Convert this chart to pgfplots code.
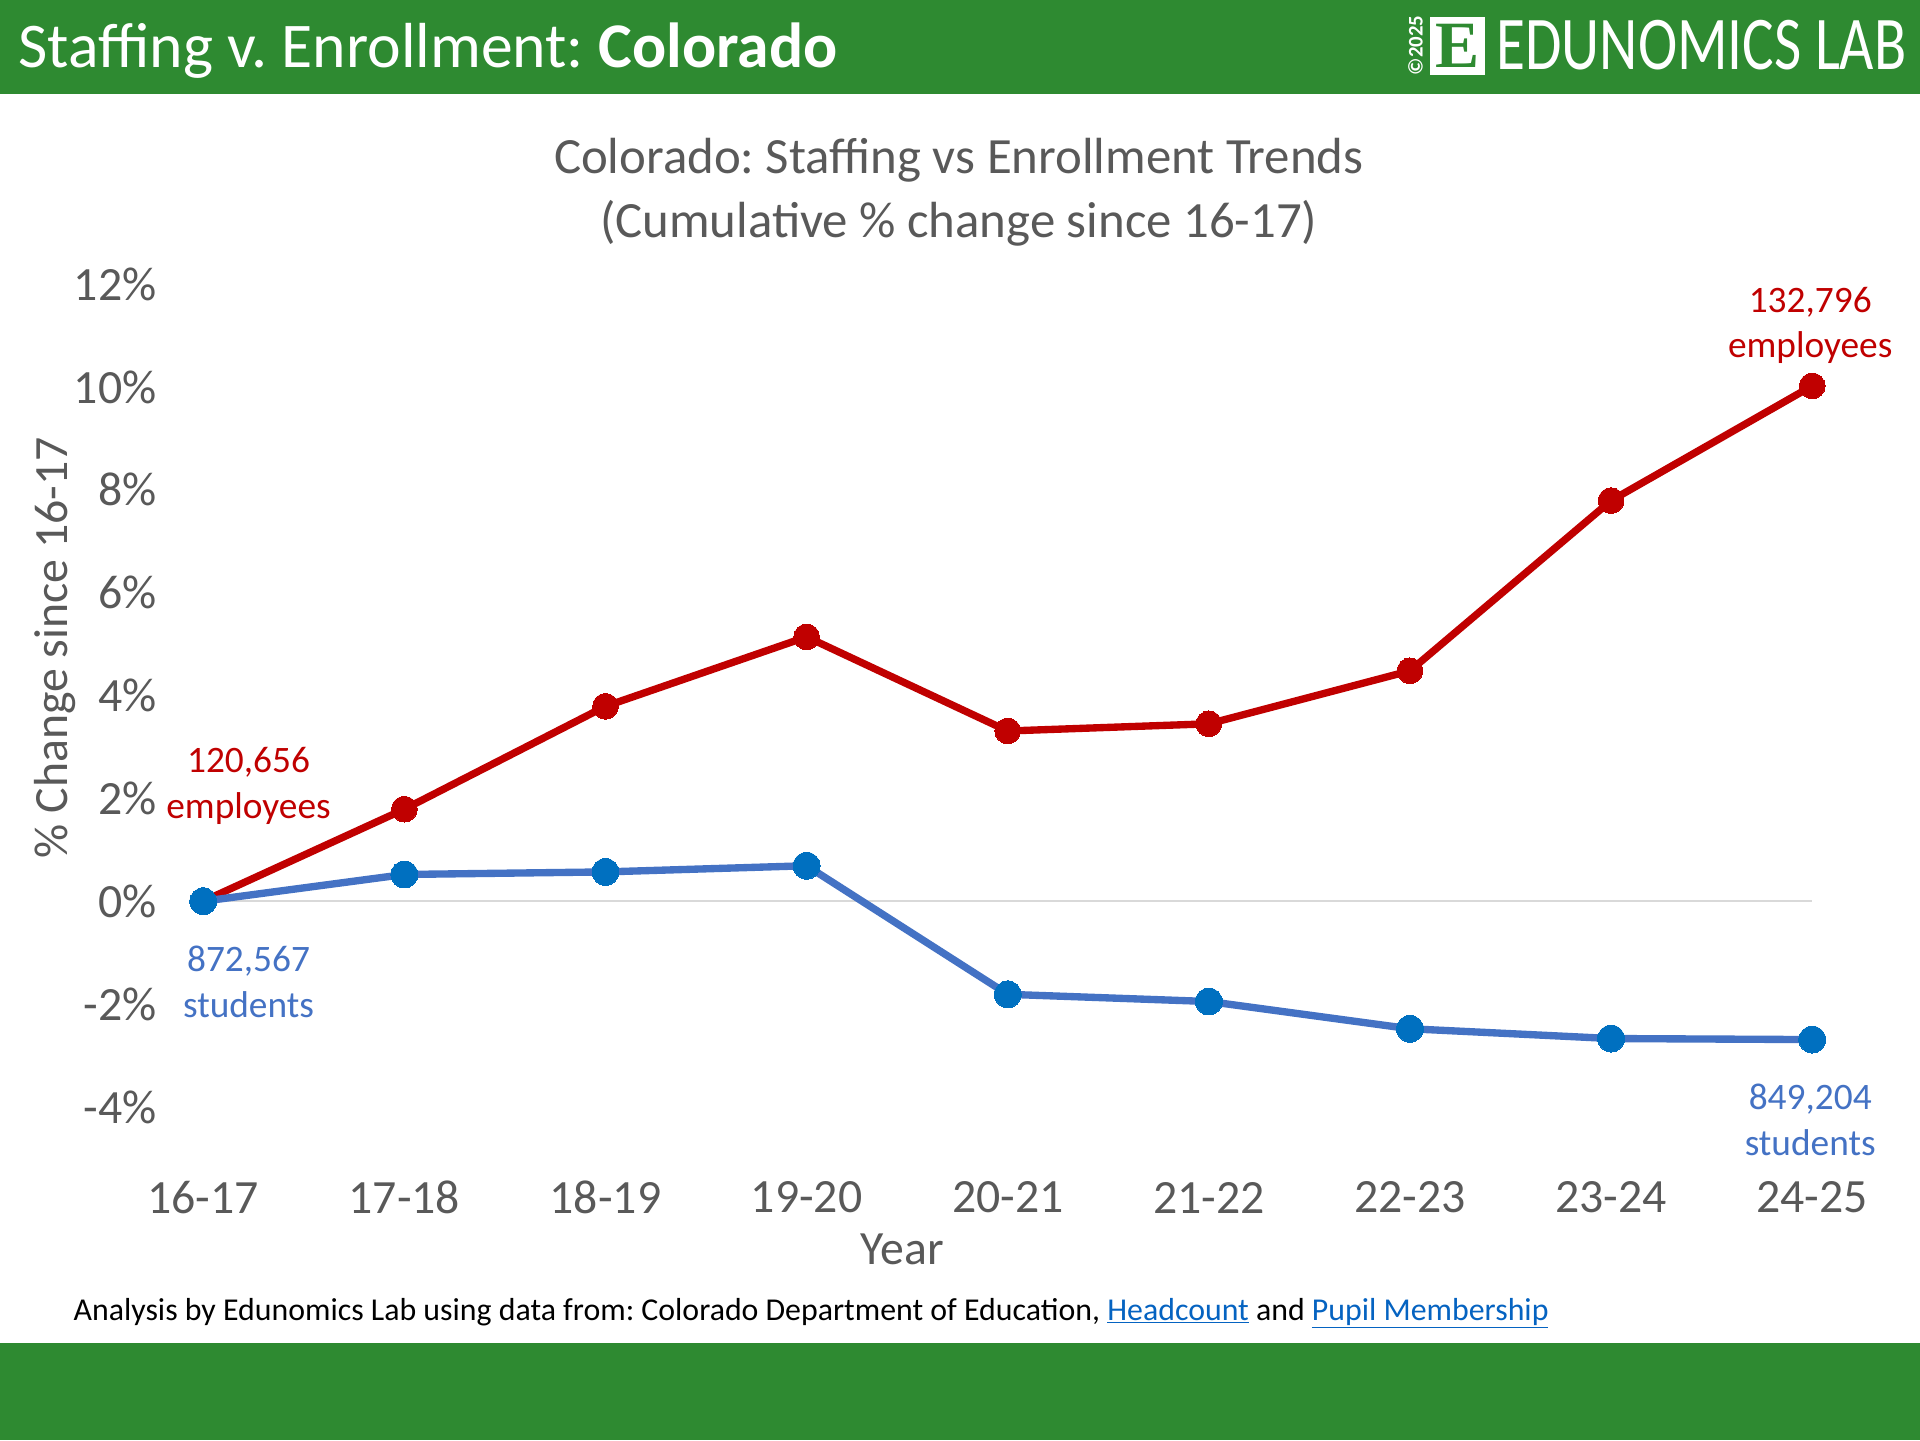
\documentclass[border=0pt]{standalone}
\usepackage{fontspec}
\setmainfont{Carlito}
\newfontfamily\logoserif{Liberation Serif}
\usepackage{pgfplots}
\pgfplotsset{compat=1.18}
\frenchspacing

\definecolor{hdrgreen}{HTML}{2E8A31}
\definecolor{txtgray}{HTML}{595959}
\definecolor{staffred}{HTML}{C00000}
\definecolor{enrblue}{HTML}{4472C4}
\definecolor{mkblue}{HTML}{0070C0}
\definecolor{linkblue}{HTML}{0563C1}
\definecolor{zerogray}{HTML}{D9D9D9}

\begin{document}
\begin{tikzpicture}[x=1pt,y=1pt]
\path[use as bounding box] (0,0) rectangle (1568,1176);
\fill[white] (0,0) rectangle (1568,1176);
% header and footer bands
\fill[hdrgreen] (0,1099) rectangle (1568,1176);
\fill[hdrgreen] (0,0) rectangle (1568,79);
\node[anchor=base west, inner sep=0pt, text=white, font=\fontsize{52}{52}\selectfont]
  at (15,1121) {Staffing v. Enrollment: \textbf{Colorado}};
% logo
\fill[white] (1168,1115) rectangle (1213,1162);
\node[inner sep=0pt, text=hdrgreen, font=\logoserif\bfseries\fontsize{54}{54}\selectfont]
  at (1190.5,1138.5) {E};
\node[rotate=90, inner sep=0pt, text=white, font=\bfseries\fontsize{17}{17}\selectfont]
  at (1156,1139) {©2025};
\node[anchor=base west, inner sep=0pt, text=white, xscale=0.78, font=\fontsize{62}{62}\selectfont]
  at (1222,1119) {EDUNOMICS LAB};
% chart title
\node[align=center, text=txtgray, font=\fontsize{41.5}{52}\selectfont]
  at (783,1019) {Colorado: Staffing vs Enrollment Trends\\(Cumulative \% change since 16-17)};
% footnote
\node[anchor=base west, inner sep=0pt, font=\fontsize{26}{26}\selectfont]
  at (60,98) {Analysis by Edunomics Lab using data from: Colorado Department of Education,
  \textcolor{linkblue}{\underline{Headcount}} and \textcolor{linkblue}{\underline{Pupil Membership}}};

\begin{axis}[
  at={(166pt,272pt)}, anchor=south west,
  scale only axis, width=1314pt, height=672pt,
  xmin=0, xmax=8, ymin=-4, ymax=12,
  clip=false,
  axis line style={draw=none},
  tick style={draw=none},
  xtick={0,1,2,3,4,5,6,7,8},
  xticklabels={16-17,17-18,18-19,19-20,20-21,21-22,22-23,23-24,24-25},
  ytick={-4,-2,0,2,4,6,8,10,12},
  yticklabels={-4\%,-2\%,0\%,2\%,4\%,6\%,8\%,10\%,12\%},
  ticklabel style={text=txtgray, font=\fontsize{39}{39}\selectfont},
  yticklabel style={anchor=east, inner sep=0pt, xshift=-38pt},
  xticklabel style={anchor=center, inner sep=0pt, yshift=-74pt},
  xlabel={Year},
  ylabel={\% Change since 16-17},
  label style={text=txtgray, font=\fontsize{39}{39}\selectfont},
  xlabel style={at={(axis cs:3.476,-6.76)}, anchor=center, inner sep=0pt},
  ylabel style={at={(axis cs:-0.737,4.93)}, anchor=center, rotate=0, inner sep=0pt},
]
\addplot[color=zerogray, line width=1.5pt, forget plot] coordinates {(0,0) (8,0)};

\addplot[color=staffred, line width=6pt, mark=*, mark size=10.5pt,
  mark options={fill=staffred, draw=staffred, line width=0pt}] coordinates {
  (0,0) (1,1.79) (2,3.79) (3,5.14) (4,3.31) (5,3.45) (6,4.48) (7,7.79) (8,10.02)
};
\addplot[color=enrblue, line width=6pt, mark=*, mark size=11pt,
  mark options={fill=mkblue, draw=mkblue, line width=0pt}] coordinates {
  (0,0) (1,0.52) (2,0.57) (3,0.69) (4,-1.81) (5,-1.95) (6,-2.48) (7,-2.67) (8,-2.69)
};

\node[align=center, text=staffred, font=\fontsize{30.5}{37}\selectfont] at (axis cs:0.225,2.24) {120,656\\employees};
\node[align=center, text=enrblue, font=\fontsize{30.5}{37}\selectfont] at (axis cs:0.225,-1.57) {872,567\\students};
\node[align=center, text=staffred, font=\fontsize{30.5}{37}\selectfont] at (axis cs:7.99,11.20) {132,796\\employees};
\node[align=center, text=enrblue, font=\fontsize{30.5}{37}\selectfont] at (axis cs:7.99,-4.25) {849,204\\students};
\end{axis}
\end{tikzpicture}
\end{document}
